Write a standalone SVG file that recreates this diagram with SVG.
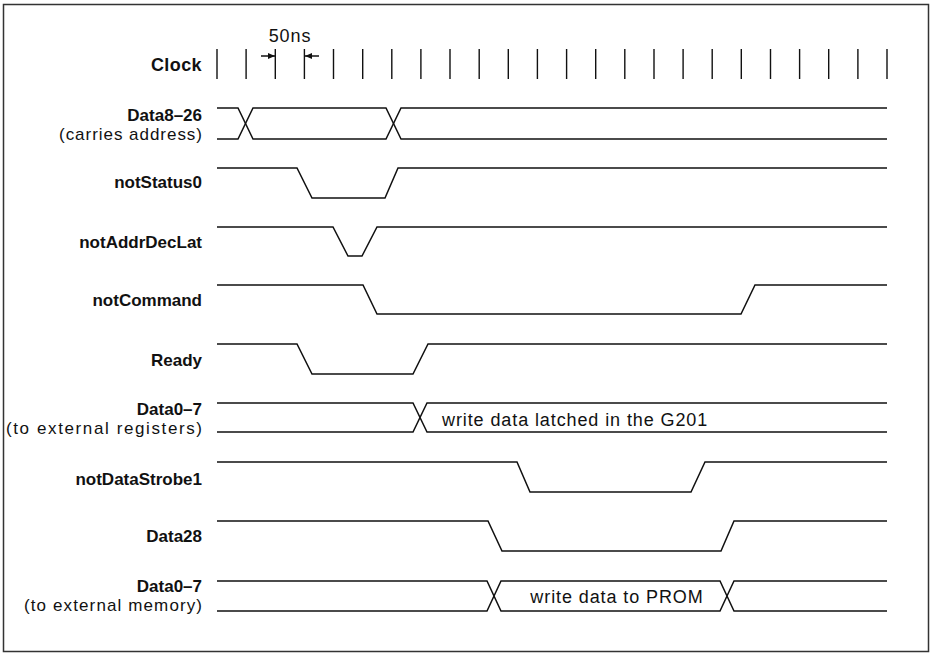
<svg xmlns="http://www.w3.org/2000/svg" width="932" height="653" viewBox="0 0 932 653">
<style>
.lbl{font-family:"Liberation Sans",Arial,sans-serif;font-size:17px;font-weight:bold;fill:#111;text-anchor:end}
.sub{font-family:"Liberation Sans",Arial,sans-serif;font-size:17px;fill:#111;text-anchor:end}
.txt{font-family:"Liberation Sans",Arial,sans-serif;font-size:18px;fill:#111;letter-spacing:0.9px}
.w{fill:none;stroke:#111;stroke-width:1.5;stroke-linejoin:miter}
.tick{stroke:#111;stroke-width:1.4}
</style>
<defs>
<marker id="ah" markerWidth="8" markerHeight="8" refX="7" refY="4" orient="auto" markerUnits="userSpaceOnUse">
<path d="M0,1 L7,4 L0,7 Z" fill="#111"/>
</marker>
</defs>
<rect x="3.5" y="4.5" width="925" height="647" fill="#fff" stroke="#333" stroke-width="1.5"/>

<g id="clock">
<text class="lbl" x="202" y="71" style="font-size:18px;letter-spacing:0.4px">Clock</text>
<g class="tick">
<line x1="217" y1="49" x2="217" y2="79"/><line x1="246.1" y1="49" x2="246.1" y2="79"/><line x1="275.3" y1="49" x2="275.3" y2="79"/><line x1="304.4" y1="49" x2="304.4" y2="79"/><line x1="333.5" y1="49" x2="333.5" y2="79"/><line x1="362.7" y1="49" x2="362.7" y2="79"/><line x1="391.8" y1="49" x2="391.8" y2="79"/><line x1="420.9" y1="49" x2="420.9" y2="79"/><line x1="450" y1="49" x2="450" y2="79"/><line x1="479.2" y1="49" x2="479.2" y2="79"/><line x1="508.3" y1="49" x2="508.3" y2="79"/><line x1="537.4" y1="49" x2="537.4" y2="79"/><line x1="566.6" y1="49" x2="566.6" y2="79"/><line x1="595.7" y1="49" x2="595.7" y2="79"/><line x1="624.8" y1="49" x2="624.8" y2="79"/><line x1="654" y1="49" x2="654" y2="79"/><line x1="683.1" y1="49" x2="683.1" y2="79"/><line x1="712.2" y1="49" x2="712.2" y2="79"/><line x1="741.3" y1="49" x2="741.3" y2="79"/><line x1="770.5" y1="49" x2="770.5" y2="79"/><line x1="799.6" y1="49" x2="799.6" y2="79"/><line x1="828.7" y1="49" x2="828.7" y2="79"/><line x1="857.9" y1="49" x2="857.9" y2="79"/><line x1="887" y1="49" x2="887" y2="79"/>
</g>
</g>

<g id="period-50ns">
<text class="txt" x="290" y="42" style="text-anchor:middle">50ns</text>
<line x1="261" y1="56" x2="275" y2="56" stroke="#111" stroke-width="1.5" marker-end="url(#ah)"/>
<line x1="319" y1="56" x2="305" y2="56" stroke="#111" stroke-width="1.5" marker-end="url(#ah)"/>
</g>

<g id="data8-26">
<text class="lbl" x="202" y="121">Data8–26</text>
<text class="sub" x="202" y="140" textLength="143" lengthAdjust="spacing">(carries address)</text>
<path class="w" d="M217,108 H238 L253,139 H386 L401,108 H887"/>
<path class="w" d="M217,139 H238 L253,108 H386 L401,139 H887"/>
</g>

<g id="notStatus0">
<text class="lbl" x="202" y="188">notStatus0</text>
<path class="w" d="M217,168 H297 L312,198 H385 L398,168 H887"/>
</g>

<g id="notAddrDecLat">
<text class="lbl" x="202" y="248">notAddrDecLat</text>
<path class="w" d="M217,227 H333 L348,256 H362 L377,227 H887"/>
</g>

<g id="notCommand">
<text class="lbl" x="202" y="306">notCommand</text>
<path class="w" d="M217,285 H363 L377,314 H741 L755,285 H887"/>
</g>

<g id="ready">
<text class="lbl" x="202" y="366">Ready</text>
<path class="w" d="M217,344 H297 L312,374 H413 L428,344 H887"/>
</g>

<g id="data0-7-registers">
<text class="lbl" x="202" y="415">Data0–7</text>
<text class="sub" x="202" y="434" textLength="196" lengthAdjust="spacing">(to external registers)</text>
<path class="w" d="M217,403 H413 L427,432 H887"/>
<path class="w" d="M217,432 H413 L427,403 H887"/>
<text class="txt" x="442" y="426">write data latched in the G201</text>
</g>

<g id="notDataStrobe1">
<text class="lbl" x="202" y="485">notDataStrobe1</text>
<path class="w" d="M217,462 H517 L530,492 H691 L705,462 H887"/>
</g>

<g id="data28">
<text class="lbl" x="202" y="542">Data28</text>
<path class="w" d="M217,521 H488 L502,551 H721 L734,521 H887"/>
</g>

<g id="data0-7-memory">
<text class="lbl" x="202" y="592">Data0–7</text>
<text class="sub" x="202" y="611" textLength="178" lengthAdjust="spacing">(to external memory)</text>
<path class="w" d="M217,581 H487 L501,611 H720 L734,581 H887"/>
<path class="w" d="M217,611 H487 L501,581 H720 L734,611 H887"/>
<text class="txt" x="617" y="603" style="text-anchor:middle">write data to PROM</text>
</g>

<g id="connectors"></g>
</svg>
